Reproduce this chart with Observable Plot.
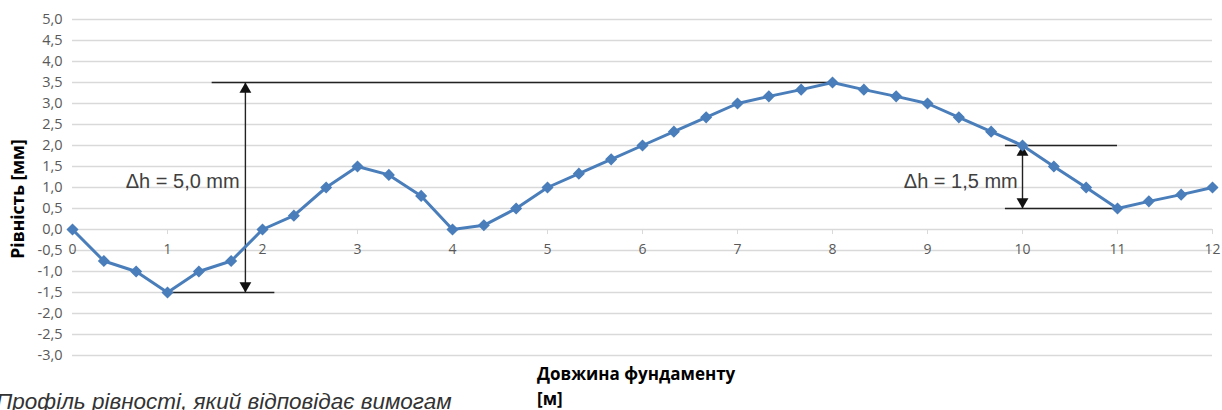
<!DOCTYPE html>
<html><head><meta charset="utf-8">
<script src="https://cdn.jsdelivr.net/npm/d3@7"></script>
<script src="https://cdn.jsdelivr.net/npm/@observablehq/plot@0.6"></script>
<style>
html,body{margin:0;padding:0;background:#fff;}
#wrap{position:relative;width:1222px;height:410px;overflow:hidden;background:#fff;}
#chart{position:absolute;left:0;top:0;}
.ytitle{position:absolute;left:17px;top:199px;transform:translate(-50%,-50%) rotate(-90deg);font:bold 17.5px "Open Sans";white-space:nowrap;color:#000;}
.xtitle{position:absolute;left:537px;top:361px;font:bold 17px/25px "Open Sans";color:#000;}
.caption{position:absolute;left:-4px;top:389px;font:italic 22.5px "Liberation Sans";color:#333;white-space:nowrap;}
</style>
</head><body>
<div id="wrap">
  <div id="chart"></div>
  <div class="ytitle">Рівність [мм]</div>
  <div class="xtitle">Довжина фундаменту<br>[м]</div>
  <div class="caption">Профіль рівності, який відповідає вимогам</div>
</div>
<script>
// Data (length along foundation [m], flatness [mm])
const lengths = [0, 0.33, 0.67, 1, 1.33, 1.67, 2, 2.33, 2.67, 3, 3.33, 3.67, 4, 4.33, 4.67, 5, 5.33, 5.67, 6, 6.33, 6.67, 7, 7.33, 7.67, 8, 8.33, 8.67, 9, 9.33, 9.67, 10, 10.33, 10.67, 11, 11.33, 11.67, 12];
const levels  = [0, -0.75, -1.0, -1.5, -1.0, -0.75, 0.0, 0.33, 1.0, 1.5, 1.3, 0.8, 0.0, 0.1, 0.5, 1.0, 1.33, 1.67, 2.0, 2.33, 2.67, 3.0, 3.17, 3.33, 3.5, 3.33, 3.17, 3.0, 2.67, 2.33, 2.0, 1.5, 1.0, 0.5, 0.67, 0.83, 1.0];
const yTicks = [-3, -2.5, -2, -1.5, -1, -0.5, 0, 0.5, 1, 1.5, 2, 2.5, 3, 3.5, 4, 4.5, 5];
const xTicks = [0, 1, 2, 3, 4, 5, 6, 7, 8, 9, 10, 11, 12];

// Annotations (data units)
const hLines = [
  {x1: 1.47, x2: 8.0, y: 3.5},
  {x1: 1.0, x2: 2.13, y: -1.5},
  {x1: 9.82, x2: 11.0, y: 2.0},
  {x1: 9.82, x2: 11.0, y: 0.5}
];
const vArrows = [
  {x: 1.82, y1: -1.5, y2: 3.5},
  {x: 10.0, y1: 0.5, y2: 2.0}
];
const labels = [
  {x: 1.76, y: 1.14, text: "Δh = 5,0 mm"},
  {x: 9.95, y: 1.14, text: "Δh = 1,5 mm"}
];

const data = lengths.map((x, i) => ({x, y: levels[i]}));
const fmt = d => d3.format(".1f")(d).replace(".", ",").replace("\u2212", "-");

const headsUp = vArrows.map(a => ({x: a.x, y: a.y2}));
const headsDown = vArrows.map(a => ({x: a.x, y: a.y1}));

const chart = Plot.plot({
  width: 1222,
  height: 372,
  marginTop: 19,
  marginBottom: 17,
  marginLeft: 72,
  marginRight: 10,
  x: {domain: [0, 12], axis: null},
  y: {domain: [-3, 5]},
  style: {fontFamily: "Open Sans", fontSize: "14px", color: "#595959", background: "transparent"},
  marks: [
    Plot.ruleY(yTicks, {stroke: "#d9d9d9", strokeWidth: 1.3}),
    Plot.axisY(yTicks, {tickSize: 0, tickPadding: 10, tickFormat: fmt, label: null, fontSize: 14.5, fill: "#595959"}),
    Plot.ruleX(xTicks, {x: d => d, y1: 0, y2: -0.12, stroke: "#d9d9d9"}),
    Plot.text(xTicks, {x: d => d, y: 0, dy: 20, text: d => String(d), fill: "#595959", fontSize: 14}),
    Plot.ruleY(hLines, {y: "y", x1: "x1", x2: "x2", stroke: "#222", strokeWidth: 1.4}),
    Plot.ruleX(vArrows, {x: "x", y1: "y1", y2: "y2", stroke: "#222", strokeWidth: 1.4}),
    Plot.dot(headsUp, {x: "x", y: "y", symbol: "triangle", r: 4.4, fill: "#111", dy: 6.8}),
    Plot.dot(headsDown, {x: "x", y: "y", symbol: "triangle", r: 4.4, fill: "#111", dy: -6.8, rotate: 180}),
    Plot.line(data, {x: "x", y: "y", stroke: "#4a7ebb", strokeWidth: 3}),
    Plot.dot(data, {x: "x", y: "y", symbol: "diamond2", r: 4.5, fill: "#4a7ebb", stroke: "#4a7ebb"}),
    Plot.text(labels, {x: "x", y: "y", text: "text", textAnchor: "end", fontFamily: "Liberation Sans", fontSize: 20, fill: "#404040"})
  ]
});
document.getElementById("chart").appendChild(chart);
</script>
</body></html>
